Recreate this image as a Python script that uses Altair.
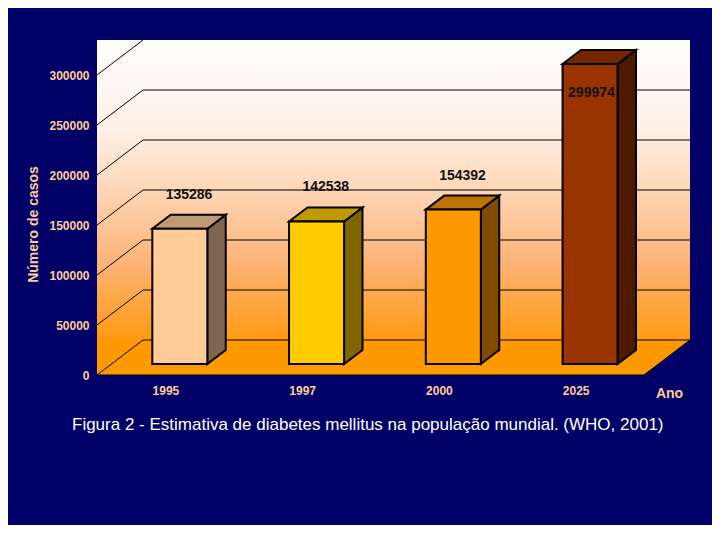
import altair as alt
import pandas as pd

# ---------------- data ----------------
years = ["1995", "1997", "2000", "2025"]
values = [135286, 142538, 154392, 299974]
front_colors = ["#FFCC99", "#FFCC00", "#FF9900", "#993300"]
side_colors = ["#806650", "#806600", "#804C00", "#4D1A00"]
top_colors = ["#C09A73", "#BF9900", "#BF7300", "#732600"]
y_ticks = [0, 50000, 100000, 150000, 200000, 250000, 300000]

# ---------------- 3D geometry (style) ----------------
N = len(years)
DX = 0.3364          # horizontal shift of full depth, in category units
DY = 35000           # vertical shift of full depth, in value units
D0, D1 = 0.314, 0.714  # depth range of the bars
HW = 0.2012          # half bar width, category units
XMAX = N + DX
YMAX = 335000
W, H = 593, 335
FONT = "Liberation Sans"
TAN = "#FFCC99"
NAVY = "#000066"

xs = alt.Scale(domain=[0, XMAX], nice=False, zero=False)
ys = alt.Scale(domain=[0, YMAX], nice=False, zero=False)

# walls
wall_df = pd.DataFrame({"x": [0], "x2": [XMAX], "y": [DY], "y2": [YMAX]})
grad = {
    "gradient": "linear", "x1": 0, "y1": 0, "x2": 0, "y2": 1,
    "stops": [
        {"offset": 0, "color": "#FFFFFF"},
        {"offset": 0.3, "color": "#FEF0E6"},
        {"offset": 0.5, "color": "#FDD6B6"},
        {"offset": 0.75, "color": "#FCB274"},
        {"offset": 1, "color": "#FF9A10"},
    ],
}
walls = alt.Chart(wall_df).mark_rect(fill=grad).encode(
    x=alt.X("x:Q", scale=xs, axis=alt.Axis(
        values=[i + 0.5 for i in range(N)],
        labelExpr="[" + ",".join("'%s'" % y for y in years) + "][floor(datum.value)]",
        title="Ano", domain=False, ticks=False, grid=False,
        labelColor=TAN, labelFont=FONT, labelFontSize=12, labelFontWeight="bold",
        labelPadding=10,
        titleColor=TAN, titleFont=FONT, titleFontSize=14, titleFontWeight="bold",
        titleX=572, titleY=18, titleBaseline="middle", titleAlign="center")),
    x2="x2:Q",
    y=alt.Y("y:Q", scale=ys, axis=alt.Axis(
        values=y_ticks, format="d", title="Número de casos",
        domain=False, ticks=False, grid=False,
        labelColor=TAN, labelFont=FONT, labelFontSize=12, labelFontWeight="bold",
        labelPadding=8,
        titleColor=TAN, titleFont=FONT, titleFontSize=14, titleFontWeight="bold",
        titleX=-64, titleY=184, titleBaseline="middle", titleAlign="center",
        titleAngle=270)),
    y2="y2:Q",
)

# floor (includes bottom of left wall)
floor_df = pd.DataFrame({"y": [0, DY], "x": [0, 0], "x2": [N, N + DX]})
floor = alt.Chart(floor_df).mark_area(orient="horizontal", color="#FF9900").encode(
    y=alt.Y("y:Q", scale=ys), x=alt.X("x:Q", scale=xs), x2="x2:Q")

# grid lines
lines = []
for v in y_ticks[:-1]:
    lines.append({"x": DX, "y": v + DY, "x2": XMAX, "y2": v + DY})   # back wall
for v in y_ticks:
    lines.append({"x": 0, "y": v, "x2": DX, "y2": v + DY})           # left wall
lines.append({"x": 0, "y": 0, "x2": N, "y2": 0})                     # floor front
lines.append({"x": N, "y": 0, "x2": N + DX, "y2": DY})               # floor right
grid = alt.Chart(pd.DataFrame(lines)).mark_rule(color="black", strokeWidth=1).encode(
    x=alt.X("x:Q", scale=xs), y=alt.Y("y:Q", scale=ys), x2="x2:Q", y2="y2:Q")

# bars
front_rows, side_rows, top_rows, label_rows = [], [], [], []
for i, (yr, v) in enumerate(zip(years, values)):
    c = i + 0.5
    xl = c - HW + DX * D0
    xr = c + HW + DX * D0
    yb = DY * D0
    yt = v + DY * D0
    sx = DX * (D1 - D0)
    sy = DY * (D1 - D0)
    front_rows.append({"k": yr, "x": xl, "x2": xr, "y": yb, "y2": yt, "c": front_colors[i]})
    side_rows += [
        {"k": yr, "x": xr, "y": yb, "y2": yt, "c": side_colors[i]},
        {"k": yr, "x": xr + sx, "y": yb + sy, "y2": yt + sy, "c": side_colors[i]},
    ]
    top_rows += [
        {"k": yr, "y": yt, "x": xl, "x2": xr, "c": top_colors[i]},
        {"k": yr, "y": yt + sy, "x": xl + sx, "x2": xr + sx, "c": top_colors[i]},
    ]
    ly = min(v + DY * (D0 + D1) / 2 + 27000, YMAX - 53000)
    lx = c + DX * (D0 + D1) / 2 if ly > v else c + DX * D0 + 0.01
    label_rows.append({"x": lx, "y": ly, "t": str(v)})

front = alt.Chart(pd.DataFrame(front_rows)).mark_rect(stroke="black", strokeWidth=2).encode(
    x=alt.X("x:Q", scale=xs), x2="x2:Q", y=alt.Y("y:Q", scale=ys), y2="y2:Q",
    fill=alt.Fill("c:N", scale=None))
side = alt.Chart(pd.DataFrame(side_rows)).mark_area(
    orient="vertical", stroke="black", strokeWidth=2, strokeJoin="miter").encode(
    x=alt.X("x:Q", scale=xs), y=alt.Y("y:Q", scale=ys), y2="y2:Q",
    detail="k:N", fill=alt.Fill("c:N", scale=None))
top = alt.Chart(pd.DataFrame(top_rows)).mark_area(
    orient="horizontal", stroke="black", strokeWidth=2, strokeJoin="miter").encode(
    y=alt.Y("y:Q", scale=ys), x=alt.X("x:Q", scale=xs), x2="x2:Q",
    detail="k:N", fill=alt.Fill("c:N", scale=None))
labels = alt.Chart(pd.DataFrame(label_rows)).mark_text(
    font=FONT, fontSize=14, fontWeight="bold", color="#111111",
    baseline="middle", align="center").encode(
    x=alt.X("x:Q", scale=xs), y=alt.Y("y:Q", scale=ys), text="t:N")

chart = alt.layer(walls, floor, grid, side, top, front, labels).properties(
    width=W, height=H,
    autosize=alt.AutoSizeParams(type="none"),
    padding={"left": 89, "top": 32, "right": 22, "bottom": 150},
    title=alt.TitleParams(
        "Figura 2 - Estimativa de diabetes mellitus  na população mundial. (WHO, 2001)",
        orient="bottom", anchor="start", frame="group", dx=-25, offset=17,
        baseline="top", color="white", font=FONT, fontSize=17, fontWeight="normal"),
).configure(background=NAVY).configure_view(strokeWidth=0)

chart.save("out.html", embed_options={"renderer": "svg", "actions": False})
